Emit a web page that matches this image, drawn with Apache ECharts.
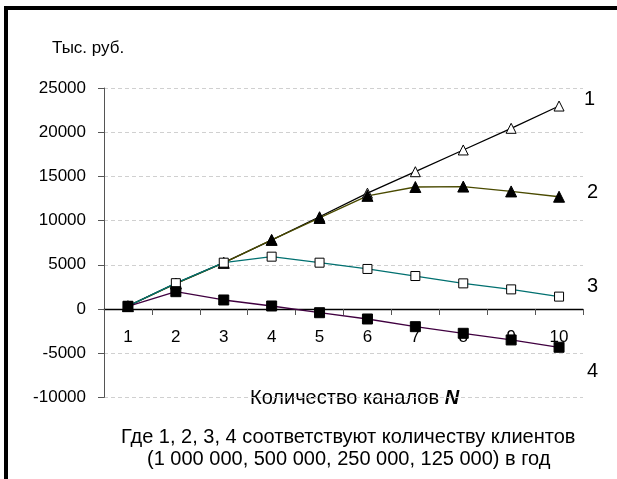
<!DOCTYPE html>
<html><head><meta charset="utf-8">
<script src="https://cdn.jsdelivr.net/npm/echarts@6/dist/echarts.min.js"></script>
<style>html,body{margin:0;padding:0;background:#fff}#c{width:617px;height:479px}</style>
</head><body><div id="c"></div>
<script>
var categories = ['1','2','3','4','5','6','7','8','9','10'];
var series1 = [340, 2900, 5240, 7800, 10440, 13100, 15530, 17990, 20440, 22960];
var series2 = [320, 2880, 5220, 7820, 10300, 12800, 13800, 13850, 13300, 12700];
var series3 = [330, 2920, 5240, 5920, 5240, 4530, 3730, 2900, 2220, 1400];
var series4 = [310, 1960, 1020, 340, -420, -1130, -2000, -2750, -3500, -4330];
var seriesNames = ['1','2','3','4'];
var yTicks = {min: -10000, max: 25000, interval: 5000};

var font = 'Liberation Sans, Arial, sans-serif';
var chart = echarts.init(document.getElementById('c'), null, {renderer: 'canvas'});
function mk(name, data, lineColor, symbol, fill, size) {
  return {
    name: name, type: 'line', data: data, symbol: symbol, symbolSize: size,
    lineStyle: {color: lineColor, width: 1.3},
    itemStyle: {color: fill, borderColor: '#000', borderWidth: 1},
    animation: false
  };
}
var gridTop = 88, gridBottom = 81.6, H = 479;
var plotH = H - gridTop - gridBottom;
var zeroOffset = plotH * (0 - yTicks.min) / (yTicks.max - yTicks.min);
chart.setOption({
  animation: false,
  grid: {left: 104, right: 34, top: gridTop, bottom: gridBottom},
  xAxis: {
    type: 'category', data: categories, boundaryGap: true, position: 'bottom',
    offset: -zeroOffset,
    axisLine: {onZero: false, lineStyle: {color: '#000', width: 1.3}},
    axisTick: {show: true, length: 6, alignWithLabel: false, lineStyle: {color: '#555'}},
    axisLabel: {margin: 20, fontSize: 17, color: '#000', fontFamily: font},
    splitLine: {show: false}
  },
  yAxis: {
    type: 'value', min: yTicks.min, max: yTicks.max, interval: yTicks.interval,
    axisLine: {show: true, lineStyle: {color: '#555'}},
    axisTick: {show: true, length: 6, lineStyle: {color: '#555'}},
    axisLabel: {margin: 18, fontSize: 17, color: '#000', fontFamily: font, formatter: function (v) { return String(v); }},
    splitLine: {show: true, lineStyle: {color: '#d0d0d0', type: [4, 3], width: 1}}
  },
  series: [
    mk(seriesNames[0], series1, '#000', 'triangle', '#fff', 10),
    mk(seriesNames[1], series2, '#4a4a00', 'triangle', '#000', 11),
    mk(seriesNames[2], series3, '#007070', 'rect', '#fff', 9),
    mk(seriesNames[3], series4, '#400040', 'rect', '#000', 10)
  ],
  graphic: [
    {type: 'rect', shape: {x: 4, y: 6, width: 613, height: 4}, style: {fill: '#000'}},
    {type: 'rect', shape: {x: 4, y: 6, width: 4, height: 473}, style: {fill: '#000'}},
    {type: 'text', left: 52, top: 40, style: {text: 'Тыс. руб.', font: '17px ' + font, fill: '#000'}},
    {type: 'text', left: 584, top: 89, style: {text: seriesNames[0], font: '20px ' + font, fill: '#000'}},
    {type: 'text', left: 587, top: 182, style: {text: seriesNames[1], font: '20px ' + font, fill: '#000'}},
    {type: 'text', left: 587, top: 276, style: {text: seriesNames[2], font: '20px ' + font, fill: '#000'}},
    {type: 'text', left: 587, top: 361, style: {text: seriesNames[3], font: '20px ' + font, fill: '#000'}},
    {type: 'text', left: 250, top: 388, style: {
      rich: {a: {font: '20px ' + font, fill: '#000'}, b: {font: 'italic bold 20px ' + font, fill: '#000'}},
      text: '{a|Количество каналов }{b|N}'}},
    {type: 'text', left: 121, top: 427, style: {text: 'Где 1, 2, 3, 4 соответствуют количеству клиентов', font: '20px ' + font, fill: '#000'}},
    {type: 'text', left: 147, top: 449, style: {text: '(1 000 000, 500 000, 250 000, 125 000) в год', font: '20px ' + font, fill: '#000'}}
  ]
});
</script></body></html>
